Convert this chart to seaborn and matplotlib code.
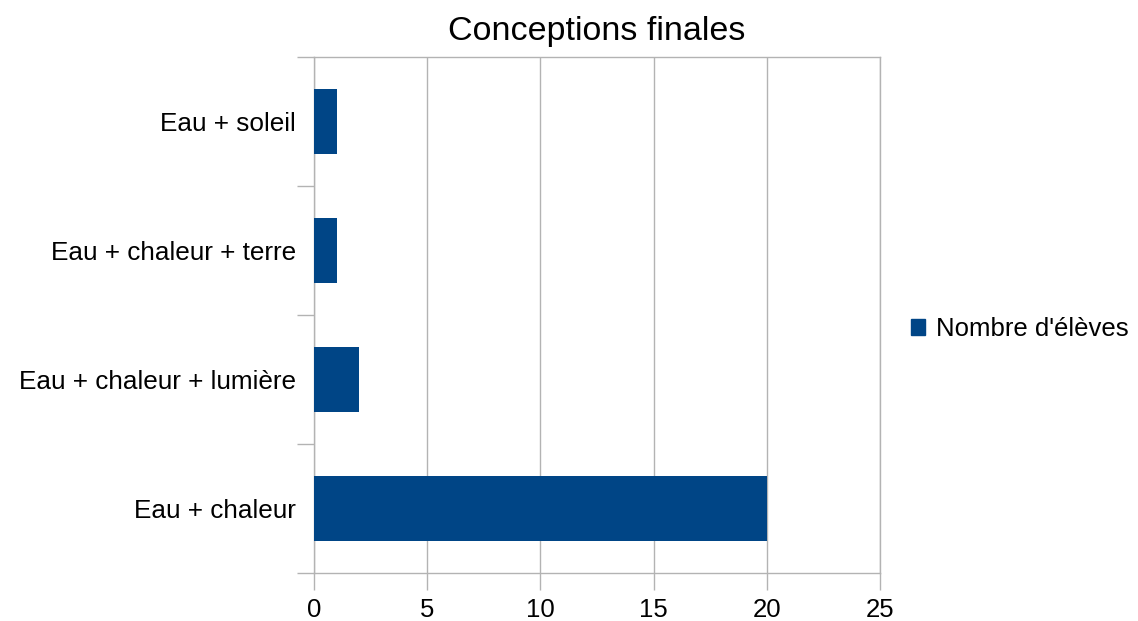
import pandas as pd
import seaborn as sns
import matplotlib.pyplot as plt
from matplotlib.patches import Patch
from matplotlib.ticker import FixedLocator

sns.set_theme(style='white')
plt.rcParams['font.family'] = ['Liberation Sans', 'DejaVu Sans']
plt.rcParams['text.color'] = 'black'
plt.rcParams['xtick.labelcolor'] = 'black'
plt.rcParams['ytick.labelcolor'] = 'black'

# Data
categories = ['Eau + soleil', 'Eau + chaleur + terre',
              'Eau + chaleur + lumière', 'Eau + chaleur']
counts = [1, 1, 2, 20]
series_name = "Nombre d'élèves"
x_ticks = [0, 5, 10, 15, 20, 25]

df = pd.DataFrame({'Conception': categories, 'Eleves': counts})

bar_color = '#004586'
grid_color = '#b3b3b3'

fig = plt.figure(figsize=(11.38, 6.21), dpi=100)
ax = fig.add_axes([0.2759, 0.0773, 0.4974, 0.8309])

sns.barplot(data=df, y='Conception', x='Eleves', orient='h',
            color=bar_color, width=0.5, saturation=1, linewidth=0,
            ax=ax, zorder=3)

ax.set_xlim(0, 25)
ax.set_ylim(len(categories) - 0.5, -0.5)
ax.set_xticks(x_ticks)
ax.set_xticklabels([str(t) for t in x_ticks], fontsize=18.5)
ax.xaxis.grid(True, color=grid_color, linewidth=1)
ax.set_axisbelow(True)

# y tick marks at category boundaries, labels centred on bars
ax.yaxis.set_minor_locator(FixedLocator([i - 0.5 for i in range(len(categories) + 1)]))
ax.tick_params(axis='y', which='major', length=0, pad=13, labelsize=18.8)
ax.tick_params(axis='y', which='minor', length=12, width=1, color=grid_color, left=True)
ax.tick_params(axis='x', which='major', length=12, width=1, color=grid_color,
               pad=6, bottom=True)

for side in ['top', 'bottom', 'left', 'right']:
    ax.spines[side].set_color(grid_color)
    ax.spines[side].set_linewidth(1)

ax.set_xlabel('')
ax.set_ylabel('')
ax.set_title('Conceptions finales', fontsize=24.5, pad=12)

handle = Patch(facecolor=bar_color, edgecolor=bar_color)
fig.legend([handle], [series_name], loc='center left',
           bbox_to_anchor=(0.780, 0.47), frameon=False, fontsize=18.5,
           handlelength=0.57, handleheight=0.57, handletextpad=0.4)

plt.savefig('out.png', dpi=100)
